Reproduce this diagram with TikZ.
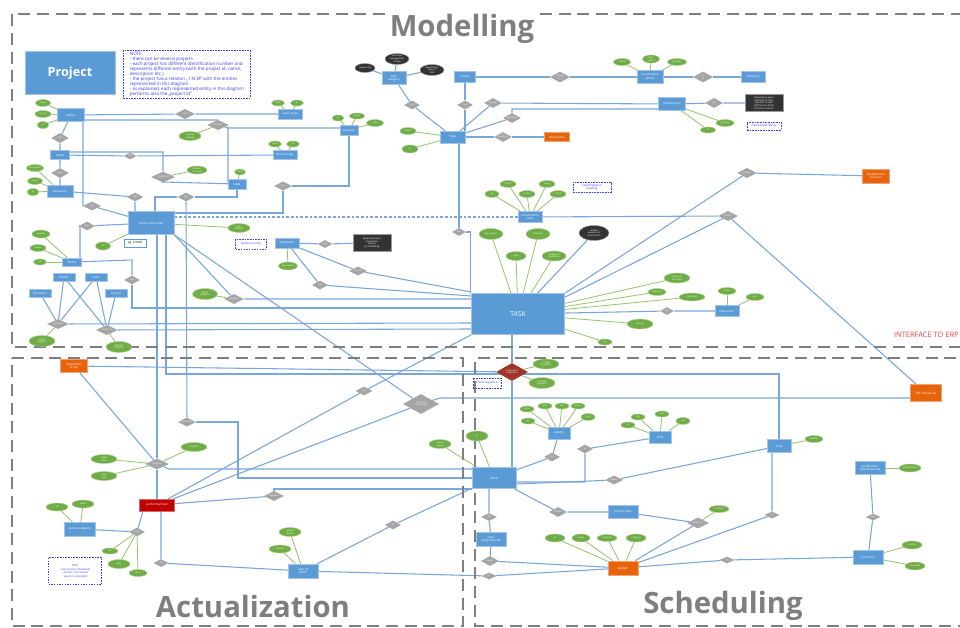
\documentclass[tikz,border=0pt]{standalone}
\usepackage{fontspec}
\setmainfont{Open Sans}
\usetikzlibrary{shapes.geometric,calc}
\pgfdeclarelayer{bg}
\pgfdeclarelayer{paper}
\pgfsetlayers{paper,bg,main}
\definecolor{cEnt}{HTML}{5B9BD5}
\definecolor{cEntEdge}{HTML}{A3C4E8}
\definecolor{cAtt}{HTML}{70AD47}
\definecolor{cAttEdge}{HTML}{A9D18E}
\definecolor{cRel}{HTML}{A5A5A5}
\definecolor{cDark}{HTML}{333333}
\definecolor{cOrg}{HTML}{E8640C}
\definecolor{cRed}{HTML}{C00000}
\definecolor{cRedD}{HTML}{A0352B}
\definecolor{cLine}{HTML}{7AA7DA}
\definecolor{cGLine}{HTML}{92C46A}
\definecolor{cFrame}{HTML}{7F7F7F}
\definecolor{cNote}{HTML}{3C3CF0}
\definecolor{cErp}{HTML}{F04040}
\newcommand\entfont{\fontsize{2.2}{2.6}\selectfont}
\newcommand\attfont{\fontsize{1.7}{2.0}\selectfont}
\newcommand\notefont{\fontsize{3.4}{3.75}\selectfont}
\begin{document}
\begin{tikzpicture}[x=0.75pt,y=-0.75pt,
  px/.style 2 args={minimum width=#1*0.75pt, minimum height=#2*0.75pt},
  ent/.style 2 args={rectangle, px={#1}{#2}, fill=cEnt, draw=cEntEdge, line width=0.35pt,
    inner sep=0pt, text=white, font=\entfont, align=center},
  org/.style 2 args={ent={#1}{#2}, fill=cOrg, draw=cOrg!60!white},
  redbox/.style 2 args={ent={#1}{#2}, fill=cRed, draw=cRed!60!white},
  att/.style 2 args={ellipse, px={#1}{#2}, fill=cAtt, draw=cAttEdge, line width=0.3pt,
    inner sep=0pt, text=white, font=\attfont, align=center},
  dk/.style 2 args={att={#1}{#2}, fill=cDark, draw=cDark!50!white},
  dkbox/.style 2 args={rectangle, px={#1}{#2}, fill=cDark, draw=cDark!50!white, line width=0.3pt,
    inner sep=0.5pt, text=white, font=\attfont, align=center},
  rel/.style 2 args={diamond, aspect=2.2, px={#1}{#2}, fill=cRel, inner sep=0pt,
    text=white, font=\attfont, align=center},
  redd/.style 2 args={rel={#1}{#2}, fill=cRedD},
  note/.style 2 args={rectangle, px={#1}{#2}, draw=cNote, line width=0.6pt,
    dash pattern=on 1.2pt off 0.8pt, inner sep=0.8pt, text=cNote, font=\entfont, align=center},
  ebox/.style 2 args={rectangle, px={#1}{#2}, draw=cEnt, line width=0.6pt, fill=white,
    inner sep=0pt, text=black, font=\entfont},
  cn/.style={draw=cLine, line width=0.8pt},
  ga/.style={draw=cGLine, line width=0.6pt},
  secframe/.style={draw=cFrame, line width=2.2pt, dash pattern=on 9pt off 5pt},
  sectitle/.style={font=\fontsize{22}{26}\selectfont\bfseries, text=cFrame, inner sep=0pt}
]
\useasboundingbox (0,0) rectangle (960,628);
\begin{pgfonlayer}{paper}
\fill[white] (0,0) rectangle (960,628);
\end{pgfonlayer}

% ---------- section frames and titles
\draw[secframe] (385,14) -- (12,14) -- (12,347) -- (975,347);
\draw[secframe] (540,14) -- (975,14);
\draw[secframe] (12,358) -- (463,358) -- (463,626) -- (12,626) -- cycle;
\draw[secframe] (975,358) -- (475,358) -- (475,626) -- (975,626);
\node[sectitle] (tmod) at (462,29) {Modelling};
\node[sectitle] (tact) at (253,606) {Actualization};
\node[sectitle] (tsch) at (723,606) {Scheduling};
\node[anchor=east, font=\fontsize{5.6}{6}\selectfont, text=cErp, inner sep=0pt] (erp) at (959,335) {INTERFACE TO ERP};

% ---------- Modelling: project, locations
\node[ent={90}{43}, font=\fontsize{9.5}{11}\selectfont\bfseries] (project) at (70,73) {Project};
\node[note={127}{47}, anchor=north west, align=left, font=\notefont, inner sep=1.2pt] (note1) at (123,50)
 {NOTE:\\
 - there can be several projects\\
 - each project has different identification number and\\
 represents different entity (with the project id, name,\\
 description etc.)\\
 - the project has a relation „1:N:M“ with the entities\\
 represented in this diagram\\
 - as explained, each represented entity in this diagram\\
 performs also the „project id“};

\node[ent={27}{13}] (owner) at (71,115) {Owner};
\node[att={15}{7}] (aow1) at (43,103) {name};
\node[att={16}{7}] (aow2) at (43,114) {contact};
\node[att={12}{7}] (aow3) at (43,125) {id};
\node[rel={18}{10}] (d1) at (60,138) {has};
\node[ent={19}{9}] (route) at (60,155) {Route};
\node[rel={18}{10}] (d2) at (60,173) {place};
\node[ent={26}{12}] (ext) at (60,191) {Extension};
\node[att={17}{7}] (aex1) at (35,168) {description};
\node[att={15}{7}] (aex2) at (35,181) {name};
\node[att={12}{7}] (aex3) at (33,192) {id};
\node[rel={20}{10}] (d3) at (185,114) {has};
\node[ent={24}{10}] (lrange) at (290,114) {Level range};
\node[att={13}{6}] (alr1) at (278,103) {from};
\node[att={13}{6}] (alr2) at (297,103) {to};
\node[rel={22}{10}] (d4) at (218,125) {contains};
\node[att={22}{9}] (ad4) at (190,136) {number\\of levels};
\node[ent={24}{9}] (rrange) at (285,155) {Room range};
\node[att={13}{6}] (arr1) at (275,144) {from};
\node[att={13}{6}] (arr2) at (293,144) {to};
\node[rel={13}{7}] (d5) at (130,156) {has};
\node[rel={24}{11}] (d6) at (163,177) {contains};
\node[att={20}{8}] (ad6) at (197,170) {number\\of rooms};
\node[ent={18}{10}] (level) at (237,184) {Level};
\node[att={11}{6}] (alv) at (240,172) {name};
\node[rel={17}{9}] (d7) at (135,197) {has};
\node[rel={17}{9}] (d8) at (186,197) {has};
\node[rel={18}{9}] (d9) at (283,186) {has};
\node[rel={18}{9}] (d10) at (92,206) {has};
\node[ent={18}{10}] (location) at (349,130) {Location};
\node[att={12}{6}] (alo1) at (338,118) {id};
\node[att={15}{6}] (alo2) at (357,116) {name};
\node[att={17}{7}] (alo3) at (375,123) {code};

% ---------- Modelling: task types and dependencies
\node[ent={24}{13}] (taskcat) at (394,78) {Task\\category};
\node[dk={20}{9}] (dk1) at (365,68) {sequencing};
\node[dk={24}{11}] (dk2) at (397,59) {start/end\\management\\of type};
\node[dk={24}{11}] (dk3) at (432,70) {dependency\\type of\\task};
\node[rel={16}{9}] (dtc) at (412,105) {has};
\node[ent={21}{11}] (group) at (465,77) {Group};
\node[rel={16}{9}] (dgr) at (465,105) {has};
\node[ent={25}{12}] (type) at (453,137) {Type};
\node[att={16}{7}] (aty1) at (408,131) {name};
\node[att={16}{8}] (aty2) at (410,149) {id};
\node[rel={18}{10}] (dty1) at (493,103) {follows};
\node[rel={18}{10}] (dty2) at (512,118) {precedes};
\node[rel={18}{10}] (dty3) at (503,137) {results in};
\node[org={25}{9}] (deliv) at (557,137) {Deliverable};
\node[rel={20}{11}] (dcp) at (560,77) {belongs\\to};
\node[ent={26}{13}] (conphase) at (650,77) {Construction\\phase};
\node[att={17}{7}] (acp1) at (622,62) {name};
\node[att={17}{8}] (acp2) at (651,59) {start\\date};
\node[att={19}{7}] (acp3) at (677,62) {end date};
\node[rel={20}{11}] (dco) at (703,77) {is\\of};
\node[ent={24}{11}] (company) at (753,77) {Company};
\node[ent={27}{13}] (dependency) at (672,104) {Dependency};
\node[att={18}{7}] (ade1) at (725,123) {lag time};
\node[att={15}{6}] (ade2) at (708,130) {id};
\node[rel={18}{10}] (ddep) at (714,103) {has};
\node[dkbox={38}{17}] (dkb) at (764,103) {Dependency types:\\{}[FS] finish-to-start\\{}[SS] start-to-start\\{}[FF] finish-to-finish\\{}[SF] start-to-finish};
\node[note={34}{8}] (notedep) at (764,126) {Fixed dependency};
\node[rel={20}{10}] (dun) at (747,173) {located};
\node[org={27}{14}] (equnit) at (876,176) {Equipment in\\the unit};

% ---------- Modelling: construction area and task
\node[ent={46}{23}] (carea) at (151,223) {Construction area};
\node[ebox={22}{8}] (noteeg) at (135,243) {eg. 0.9999};
\node[att={22}{9}] (aca1) at (239,228) {area\\number};
\node[att={15}{8}] (aca2) at (103,246) {id};
\node[rel={16}{9}] (dca) at (87,226) {has};
\node[ent={19}{8}] (phase) at (72,262) {Phase};
\node[att={18}{8}] (aph1) at (41,234) {number};
\node[att={16}{7}] (aph2) at (38,248) {name};
\node[att={13}{6}] (aph3) at (40,262) {id};
\node[rel={16}{9}] (dph) at (132,280) {has};
\node[ent={22}{8}] (owner2) at (64,277) {Owner};
\node[ent={22}{8}] (level2) at (96,277) {Level};
\node[ent={22}{8}] (ext2) at (40,293) {Extension};
\node[ent={22}{8}] (section) at (116,293) {Section};
\node[rel={22}{10}] (dlo1) at (58,324) {located in};
\node[rel={22}{10}] (dlo2) at (107,330) {located in};
\node[att={26}{11}] (alo4) at (42,341) {actual\\progress};
\node[att={26}{11}] (alo5) at (119,347) {planned\\progress};
\node[note={31}{10}] (noteopt) at (251,244) {Optional entity};
\node[ent={24}{10}] (equip) at (287,243) {Equipment};
\node[att={19}{8}] (aeq) at (288,266) {description};
\node[att={25}{11}] (agp) at (205,294) {global\\progress};
\node[rel={20}{10}] (dgp) at (234,299) {progress};
\node[rel={15}{8}] (deq1) at (325,244) {has};
\node[dkbox={38}{17}] (dark2) at (372,243) {Equipment types:\\{}[1] machine\\{}[2] tool\\{}[3] scaffolding};
\node[rel={18}{9}] (deq2) at (358,271) {used in};
\node[rel={16}{9}] (deq3) at (320,285) {has};

\node[ent={24}{11}] (czone) at (530,217) {Construction\\zone};
\node[att={14}{7}] (acz1) at (492,194) {id};
\node[att={16}{7}] (acz2) at (508,184) {X start};
\node[att={16}{7}] (acz3) at (527,194) {Y start};
\node[att={16}{7}] (acz4) at (547,184) {X end};
\node[att={16}{7}] (acz5) at (558,194) {Y end};
\node[note={38}{10}] (notecz) at (592,187) {Coordinates in\\drawing};
\node[rel={14}{8}] (dtk) at (459,232) {has};
\node[rel={20}{10}] (dz) at (728,216) {located};
\node[ent={93}{41}, font=\fontsize{5}{6}\selectfont] (task) at (518,314) {TASK};
\node[att={24}{11}] (atk1) at (491,234) {description};
\node[att={24}{11}] (atk2) at (538,234) {Duration};
\node[att={20}{9}] (atk3) at (516,256) {type};
\node[att={24}{10}] (atk4) at (554,256) {number of\\repetitions};
\node[dk={30}{15}] (dk4) at (594,233) {default\\sequence of\\construction};
\node[att={26}{10}] (atk5) at (677,278) {planned\\start date};
\node[att={18}{7}] (atk6) at (657,292) {end date};
\node[att={26}{8}] (atk7) at (692,297) {total float};
\node[att={26}{10}] (atk8) at (640,324) {priority};
\node[att={14}{6}] (atk9) at (605,342) {id};
\node[rel={14}{8}] (ddim) at (667,311) {has};
\node[ent={24}{11}] (dimension) at (727,311) {Dimension};
\node[att={18}{7}] (adm1) at (727,291) {value};
\node[att={18}{7}] (adm2) at (755,297) {unit};

% ---------- Actualization
\node[org={27}{13}] (equse) at (74,366) {Equipment\\in use};
\node[rel={18}{9}] (dact1) at (187,422) {documents};
\node[rel={24}{11}] (dact2) at (157,464) {assigned};
\node[att={26}{9}] (aac1) at (104,459) {actual\\start};
\node[att={26}{9}] (aac2) at (104,476) {actual\\end};
\node[att={26}{9}] (aac3) at (194,447) {progress};
\node[redbox={35}{12}] (perf) at (157,505) {performed task};
\node[rel={20}{10}] (dact3) at (274,496) {reported};
\node[rel={17}{9}] (dact4) at (364,391) {for};
\node[rel={36}{20}] (dbig) at (421,404) {Technical\\Component};
\node[ent={31}{14}] (devcat) at (80,529) {Device category};
\node[att={22}{8}] (adc1) at (57,507) {id};
\node[att={22}{8}] (adc2) at (83,504) {name};
\node[rel={16}{9}] (dact5) at (137,532) {has};
\node[att={16}{6}] (aac4) at (110,551) {id};
\node[att={22}{9}] (aac5) at (119,564) {date};
\node[att={18}{7}] (aac6) at (138,573) {time};
\node[note={53}{27}, font=\fontsize{2}{2.6}\selectfont] (notechk) at (75,571) {TASK:\\- planned (re-scheduled)\\- started, not finished\\- was not scheduled};
\node[rel={15}{8}] (dact6) at (161,563) {at};
\node[ent={30}{14}] (aow) at (303,571) {area of\\Work};
\node[att={22}{9}] (aaw1) at (290,532) {worked\\hours};
\node[att={22}{8}] (aaw2) at (280,549) {location};
\node[rel={16}{9}] (dact7) at (393,525) {at};

% ---------- Scheduling
\node[redd={32}{18}] (dred) at (512,372) {assigned to\\subproject};
\node[att={26}{10}] (ard1) at (546,364) {is fixed\\by system};
\node[att={26}{11}] (ard2) at (542,383) {planned\\progress};
\node[note={28}{10}] (noterd) at (487,383) {Fixed sequence};
\node[ent={44}{21}] (work) at (494,478) {Work};
\node[att={22}{10}] (awk) at (477,436) {id};
\node[att={22}{9}] (asum) at (440,444) {sum of\\hours};
\node[ent={22}{12}] (activity) at (559,433) {Activity};
\node[att={14}{6}] (aav1) at (527,409) {name};
\node[att={14}{6}] (aav2) at (545,406) {start};
\node[att={14}{6}] (aav3) at (562,406) {end};
\node[att={14}{6}] (aav4) at (578,406) {hours};
\node[att={14}{7}] (aav5) at (588,417) {type};
\node[att={14}{6}] (aav6) at (528,421) {id};
\node[rel={16}{9}] (dsc1) at (552,457) {has};
\node[ent={22}{12}] (shift) at (660,437) {Shift};
\node[att={14}{6}] (ash1) at (628,425) {id};
\node[att={14}{6}] (ash2) at (638,417) {day};
\node[att={14}{6}] (ash3) at (662,414) {start};
\node[att={14}{7}] (ash4) at (683,421) {end};
\node[rel={16}{9}] (dsc2) at (585,449) {in};
\node[rel={18}{9}] (dsc3) at (614,480) {needs};
\node[rel={18}{10}] (dsc4) at (558,512) {follows};
\node[ent={30}{13}] (process) at (623,512) {process flow};
\node[rel={22}{11}] (dsc5) at (698,523) {performs};
\node[att={20}{7}] (ads5) at (719,509) {certified};
\node[rel={16}{8}] (dsc9) at (489,517) {has};
\node[ent={30}{14}] (workdep) at (491,539) {work\\dependencies};
\node[rel={18}{10}] (dsc10) at (490,561) {needs};
\node[rel={15}{7}] (dsc11) at (489,576) {at};
\node[org={30}{14}] (worker) at (623,568) {worker};
\node[att={20}{8}] (awr1) at (555,538) {id};
\node[att={18}{8}] (awr2) at (581,538) {name};
\node[att={20}{7}] (awr3) at (607,538) {surname};
\node[att={20}{8}] (awr4) at (636,538) {category};
\node[rel={15}{7}] (dsc6) at (772,515) {in};
\node[rel={15}{7}] (dsc7) at (727,560) {is};
\node[ent={24}{13}] (crew) at (779,446) {Crew};
\node[att={18}{7}] (acr) at (814,439) {number};
\node[org={31}{17}] (bom) at (926,393) {Bill of material};
\node[ent={30}{13}] (qual) at (870,468) {qualification\\(specifications)};
\node[att={22}{8}] (aql) at (910,468) {Qualification};
\node[rel={15}{7}] (dsc8) at (873,517) {has};
\node[ent={30}{14}] (contractor) at (868,557) {Contractor};
\node[att={20}{8}] (act1) at (912,545) {name};
\node[att={20}{8}] (act2) at (915,566) {id number};

% ---------- connectors
\begin{pgfonlayer}{bg}
% Modelling
\draw[cn] (owner) -- (d3) -- (lrange);
\draw[cn] (owner) -- (84,120) -- (218,120) -- (d4);
\draw[cn] (d4) -- (228,128) -- (340,128) -- (location);
\draw[cn] (d4) -- (228,128) -- (228,182) -- (level);
\draw[cn] (owner) -- (83,121) -- (83,206) -- (d10) -- (carea);
\draw[cn] (owner) -- (d1) -- (route) -- (d2) -- (ext);
\draw[cn] (route) -- (66,152) -- (163,152) -- (d6);
\draw[cn] (route) -- (d5) -- (rrange);
\draw[cn] (d6) -- (163,182) -- (level);
\draw[cn] (ext) -- (d7) -- (d7 |- carea.north);
\draw[cn] (level) -- (237,197) -- (d8) -- (155,197) -- ($(carea.north)+(4,0)$);
\draw[cn] (d8) -- (dact1);
\draw[cn] (location) -- (349,186) -- (d9);
\draw[cn] (d9) |- ($(carea.east)+(0,-10)$);
\draw[cn, dash pattern=on 2pt off 1.5pt] ($(carea.east)+(0,-6)$) -- (czone);
\draw[cn] (phase) -- (80,258) -- (80,226) -- (dca) -- (carea);
\draw[cn] (phase) -- (132,260) -- (dph);
\draw[cn] (dph) -- (132,308) -- ($(task.west)+(0,-6)$);
\draw[cn] (owner2) -- (dlo1);
\draw[cn] (level2) -- (dlo2);
\draw[cn] (owner2) -- (dlo2);
\draw[cn] (level2) -- (dlo1);
\draw[cn] (ext2) -- (dlo1);
\draw[cn] (section) -- (dlo2);
\draw[cn] (dlo1) -- ($(task.west)+(0,9)$);
\draw[cn] (dlo2) -- ($(task.west)+(0,15)$);
\draw[cn] ($(carea.south)+(6,0)$) -- (dact2);
\draw[cn] ($(carea.south)+(15,0)$) -- (166,374) -- (779,374) -- (crew);
\draw[cn] (carea.south east) -- (dgp) -- ($(task.west)+(0,-15)$);
\draw[cn] (carea.south east) -- (dbig);
\draw[cn] (equip) -- (deq1) -- (dark2);
\draw[cn] (equip) -- (deq2) -- ($(task.west)+(0,-22)$);
\draw[cn] (equip) -- (deq3) -- ($(task.west)+(0,-18)$);
\draw[cn] (type.south -| dtk) -- (dtk) -| ($(task.north west)+(-1,0)$);
\draw[cn] (czone) -- (dz) -- (bom);
\draw[cn] (dz) -- ($(task.north east)+(0,4)$);
\draw[cn] (dun) -- (task.north east);
\draw[cn] (dun) -- (equnit);
\draw[cn] (dk4) -- (task);
\draw[cn] (task) -- (ddim) -- (dimension);
\draw[cn] (taskcat) -- (dtc) -- (type);
\draw[cn] (taskcat) -- (dk1);
\draw[cn] (taskcat) -- (dk2);
\draw[cn] (taskcat) -- (dk3);
\draw[cn] (group) -- (dgr) -- (dgr |- type.north);
\draw[cn] (group) -- (dcp) -- (conphase);
\draw[cn] (type) -- (dty1) -- (dependency);
\draw[cn] (type) -- (dty2) |- ($(dependency.west)+(0,5)$);
\draw[cn] (type) -- (dty3) -- (deliv);
\draw[cn] (conphase) -- (dco) -- (company);
\draw[cn] (dependency) -- (ddep) -- (dkb);
% Actualization
\draw[cn] (equse) -- (dact2);
\draw[cn] (equse) -- (dred);
\draw[cn] (dact2) -- (perf);
\draw[cn] (dact2) -- (169,469) -- ($(work.west)+(0,-9)$);
\draw[cn] (dact1) -- (238,422) |- (work);
\draw[cn] (perf) -- (dact3);
\draw[cn] (dact3) |- ($(work.west)+(0,11)$);
\draw[cn] (perf) -- (dact4) -- (task.south west);
\draw[cn] (perf) -- (dbig);
\draw[cn] (dbig) -- (440,398) -- ($(bom.west)+(0,5)$);
\draw[cn] ($(perf.south)+(-14,0)$) -- (dact5);
\draw[cn] (devcat) -- (dact5);
\draw[cn] ($(perf.south)+(4,0)$) -- (dact6) -- (aow);
\draw[cn] (aow) -- (dact7) -- (work);
\draw[cn] (aow) -- (dsc11) -- (worker);
% Scheduling
\draw[cn] (task.south -| dred) -- (dred) -- (work.north -| dred);
\draw[cn] (work) -- (dsc1) -- (activity);
\draw[cn] ($(work.east)+(0,4)$) -| (dsc2) -- (shift);
\draw[cn] ($(work.east)+(0,6)$) -- (dsc3) -- (crew);
\draw[cn] (work) -- (dsc4) -- (process);
\draw[cn] (process) -- (dsc5);
\draw[cn] (worker) -- (dsc5);
\draw[cn] (worker) -- (dsc6) -- (crew.south -| dsc6);
\draw[cn] (worker) -- (dsc7) -- (contractor);
\draw[cn] (contractor) -- (dsc8) -- (qual);
\draw[cn] (work.south -| dsc9) -- (dsc9) -- (workdep) -- (dsc10) -- (worker);
% attribute links
\foreach \a/\b in {owner/aow1, owner/aow2, owner/aow3, ext/aex1, ext/aex2, ext/aex3,
  lrange/alr1, lrange/alr2, d4/ad4, rrange/arr1, rrange/arr2, d6/ad6, level/alv,
  location/alo1, location/alo2, location/alo3, type/aty1, type/aty2,
  conphase/acp1, conphase/acp2, conphase/acp3, dependency/ade1, dependency/ade2,
  carea/aca1, carea/aca2, phase/aph1, phase/aph2, phase/aph3, dlo1/alo4, dlo2/alo5,
  equip/aeq, dgp/agp, czone/acz1, czone/acz2, czone/acz3, czone/acz4, czone/acz5,
  task/atk1, task/atk2, task/atk3, task/atk4, task/atk5, task/atk6, task/atk7, task/atk8, task/atk9,
  dimension/adm1, dimension/adm2, dact2/aac1, dact2/aac2, dact2/aac3, devcat/adc1, devcat/adc2,
  dact5/aac4, dact5/aac5, dact5/aac6, aow/aaw1, aow/aaw2, work/awk, work/asum, dred/ard1, dred/ard2,
  activity/aav1, activity/aav2, activity/aav3, activity/aav4, activity/aav5, activity/aav6,
  shift/ash1, shift/ash2, shift/ash3, shift/ash4, dsc5/ads5,
  worker/awr1, worker/awr2, worker/awr3, worker/awr4, crew/acr, qual/aql,
  contractor/act1, contractor/act2}
  \draw[ga] (\a) -- (\b);
\end{pgfonlayer}
\end{tikzpicture}
\end{document}
